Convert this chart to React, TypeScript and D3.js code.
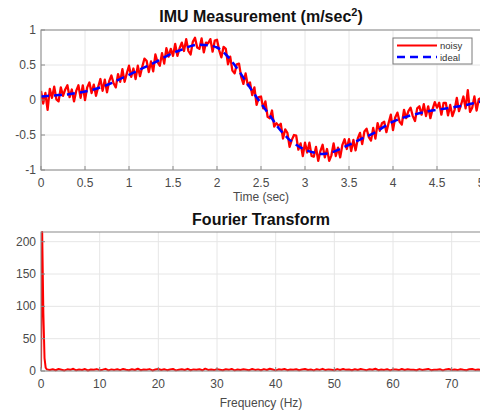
import React from 'react';
import * as d3 from 'd3';

const W = 480;
const H = 413;

// ---- Data: IMU measurement ----
const timeStep = 0.025;
const noisy = [
  0.13, -0.05, 0.1, -0.14,
  0.16, 0.03, 0.19, 0.01,
  -0.02, 0.18, 0.06, 0.15,
  0.21, 0.04, 0.15, -0.02,
  0.13, 0.21, 0.03, 0.21,
  0.0, 0.18, 0.25, 0.1,
  0.22, 0.06, 0.19, 0.3,
  0.13, 0.29, 0.11, 0.27,
  0.35, 0.24, 0.18, 0.37,
  0.26, 0.44, 0.26, 0.38,
  0.49, 0.33, 0.45, 0.3,
  0.49, 0.34, 0.47, 0.59,
  0.56, 0.4, 0.55, 0.41,
  0.65, 0.54, 0.49, 0.67,
  0.52, 0.74, 0.62, 0.73,
  0.63, 0.8, 0.63, 0.74,
  0.82, 0.7, 0.87, 0.7,
  0.65, 0.83, 0.89, 0.75,
  0.73, 0.88, 0.68, 0.82,
  0.81, 0.87, 0.69, 0.85,
  0.86, 0.71, 0.61, 0.76,
  0.73, 0.51, 0.62, 0.42,
  0.38, 0.51, 0.52, 0.33,
  0.23, 0.38, 0.21, 0.25,
  0.07, 0.18, -0.07, 0.04,
  0.05, -0.12, -0.02, -0.24,
  -0.26, -0.15, -0.38, -0.33,
  -0.37, -0.34, -0.55, -0.42,
  -0.47, -0.67, -0.57, -0.5,
  -0.51, -0.71, -0.62, -0.8,
  -0.61, -0.75, -0.61, -0.8,
  -0.81, -0.67, -0.87, -0.73,
  -0.64, -0.82, -0.7, -0.87,
  -0.79, -0.62, -0.8, -0.68,
  -0.82, -0.64, -0.56, -0.7,
  -0.56, -0.73, -0.57, -0.72,
  -0.55, -0.47, -0.63, -0.45,
  -0.41, -0.53, -0.58, -0.4,
  -0.55, -0.33, -0.44, -0.33,
  -0.31, -0.46, -0.33, -0.21,
  -0.43, -0.25, -0.18, -0.31,
  -0.35, -0.14, -0.26, -0.16,
  -0.11, -0.23, -0.3, -0.12,
  -0.09, -0.21, -0.06, -0.23,
  -0.09, -0.26, -0.13, -0.03,
  -0.11, -0.04, -0.21, -0.04,
  -0.04, -0.22, -0.07, -0.23,
  -0.14, 0.03, -0.16, -0.06,
  0.05, -0.12, 0.14, -0.17,
  -0.11, 0.05, -0.15, 0.01,
  0.03,
];

const idealStep = 0.1;
const ideal = [
  0.05, 0.06, 0.07, 0.08, 0.1, 0.12, 0.15, 0.19, 0.24, 0.3,
  0.36, 0.42, 0.48, 0.54, 0.61, 0.67, 0.72, 0.77, 0.79, 0.78,
  0.75, 0.65, 0.5, 0.32, 0.13, -0.05, -0.22, -0.4, -0.54, -0.64,
  -0.71, -0.75, -0.77, -0.75, -0.7, -0.64, -0.58, -0.52, -0.46, -0.38,
  -0.31, -0.26, -0.22, -0.19, -0.16, -0.14, -0.12, -0.1, -0.08, -0.05,
  -0.02,
];

const timeTicks = [0, 0.5, 1, 1.5, 2, 2.5, 3, 3.5, 4, 4.5, 5];
const accelTicks = [-1, -0.5, 0, 0.5, 1];

// ---- Data: Fourier transform ----
const peakFreq = [0, 0.2, 0.4, 0.6, 0.8, 1.0];
const peakMag = [4, 215, 90, 20, 5, 2.5];
const floorStart = 1.5;
const floorStep = 0.5;
const floorMag = [
  1.5, 2.8, 1.2, 3.1, 2.0, 0.9, 2.6, 1.8, 3.4, 1.1,
  2.2, 1.5, 3.0, 0.8, 2.4, 1.9, 2.9, 1.3, 2.1, 3.3,
  1.0, 2.5, 1.7, 2.8, 1.4, 3.2, 2.0, 1.1, 2.7, 1.6,
  3.5, 1.2, 2.3, 1.8, 2.9, 0.9, 2.2, 3.0, 1.5, 2.6,
  1.3, 2.4, 3.1, 1.0, 2.0, 2.7, 1.6, 3.3, 1.2, 2.5,
  1.9, 2.8, 1.1, 3.6, 1.7, 2.3, 1.4, 2.9, 2.0, 1.2,
  2.6, 1.8, 3.2, 1.0, 2.4, 1.5, 2.8, 2.1, 1.3, 3.0,
  1.7, 2.5, 1.1, 2.9, 1.6, 3.4, 2.2, 1.0, 2.6, 1.8,
  3.1, 1.3, 2.3, 1.9, 2.7, 1.1, 2.4, 3.0, 1.5, 2.2,
  1.0, 2.8, 1.7, 3.3, 1.4, 2.5, 2.0, 1.2, 2.9, 1.6,
  3.2, 1.8, 2.4, 1.1, 2.7, 1.5, 3.0, 2.1, 1.3, 2.6,
  1.9, 3.5, 1.2, 2.3, 1.7, 2.8, 1.0, 2.5, 2.2, 1.4,
  3.1, 1.6, 2.6, 1.9, 2.0, 1.1, 2.9, 1.5, 2.4, 3.2,
  1.3, 2.1, 1.8, 2.7, 1.0, 2.5, 3.0, 1.6, 2.2, 1.4,
  2.8, 1.9, 1.2, 2.6, 3.1, 1.7, 2.3, 1.5,
];
const freqTicks = [0, 10, 20, 30, 40, 50, 60, 70];
const magTicks = [0, 50, 100, 150, 200];

const FONT = '"Liberation Sans", Arial, sans-serif';
const AXIS_COLOR = '#8a8a8a';
const TICK_TEXT = '#4a4a4a';
const GRID = '#e6e6e6';

type AxesProps = {
  x: d3.ScaleLinear<number, number>;
  y: d3.ScaleLinear<number, number>;
  xTicks: number[];
  yTicks: number[];
  title: React.ReactNode;
  titleY: number;
  xLabel: string;
  xLabelY: number;
  children?: React.ReactNode;
};

function Axes({ x, y, xTicks, yTicks, title, titleY, xLabel, xLabelY, children }: AxesProps) {
  const [x0, x1] = x.range();
  const [y0, y1] = y.range(); // y0 bottom, y1 top
  const cx = (x0 + x1) / 2;
  return (
    <g>
      <rect x={x0} y={y1} width={x1 - x0} height={y0 - y1} fill="#fff" />
      {xTicks.map((t) => (
        <line key={'gx' + t} x1={x(t)} x2={x(t)} y1={y1} y2={y0} stroke={GRID} strokeWidth={1} />
      ))}
      {yTicks.map((t) => (
        <line key={'gy' + t} x1={x0} x2={x1} y1={y(t)} y2={y(t)} stroke={GRID} strokeWidth={1} />
      ))}
      {children}
      <rect x={x0} y={y1} width={x1 - x0} height={y0 - y1} fill="none" stroke={AXIS_COLOR} strokeWidth={1} />
      {xTicks.map((t) => (
        <g key={'tx' + t}>
          <line x1={x(t)} x2={x(t)} y1={y0} y2={y0 - 4} stroke={AXIS_COLOR} />
          <text x={x(t)} y={y0 + 17} textAnchor="middle" fontSize={12} fill={TICK_TEXT} fontFamily={FONT}>
            {String(t)}
          </text>
        </g>
      ))}
      {yTicks.map((t) => (
        <g key={'ty' + t}>
          <line x1={x0} x2={x0 + 4} y1={y(t)} y2={y(t)} stroke={AXIS_COLOR} />
          <text x={x0 - 5} y={y(t) + 4} textAnchor="end" fontSize={12} fill={TICK_TEXT} fontFamily={FONT}>
            {String(t)}
          </text>
        </g>
      ))}
      <text x={cx} y={titleY} textAnchor="middle" fontSize={16} fontWeight="bold" fill="#111" fontFamily={FONT}>
        {title}
      </text>
      <text x={cx} y={xLabelY} textAnchor="middle" fontSize={12} fill={TICK_TEXT} fontFamily={FONT}>
        {xLabel}
      </text>
    </g>
  );
}

export default function App() {
  // Top axes
  const xT = d3.scaleLinear().domain([0, 5]).range([41, 481]);
  const yT = d3.scaleLinear().domain([-1, 1]).range([170, 30]);
  // Bottom axes
  const xF = d3.scaleLinear().domain([0, 75]).range([41, 481]);
  const yF = d3.scaleLinear().domain([0, 215]).range([371, 232]);

  const noisyPath = d3
    .line<number>()
    .x((_, i) => xT(i * timeStep))
    .y((d) => yT(d))(noisy) as string;

  const idealPath = d3
    .line<number>()
    .x((_, i) => xT(i * idealStep))
    .y((d) => yT(d))
    .curve(d3.curveMonotoneX)(ideal) as string;

  const fftPts: [number, number][] = [
    ...peakFreq.map((f, i) => [f, peakMag[i]] as [number, number]),
    ...floorMag.map((m, i) => [floorStart + i * floorStep, m] as [number, number]),
  ];
  const fftPath = d3
    .line<[number, number]>()
    .x((d) => xF(d[0]))
    .y((d) => yF(d[1]))(fftPts) as string;

  return (
    <svg
      width={W}
      height={H}
      viewBox={`0 0 ${W} ${H}`}
      style={{ position: 'absolute', left: 0, top: 0, background: '#fff' }}
    >
      <rect x={0} y={0} width={W} height={H} fill="#fff" />
      <defs>
        <clipPath id="clipTop">
          <rect x={41} y={30} width={440} height={140} />
        </clipPath>
        <clipPath id="clipBot">
          <rect x={41} y={231} width={440} height={141} />
        </clipPath>
      </defs>
      <Axes
        x={xT}
        y={yT}
        xTicks={timeTicks}
        yTicks={accelTicks}
        title={
          <>
            IMU Measurement (m/sec
            <tspan dy={-6} fontSize={11}>2</tspan>
            <tspan dy={6}>)</tspan>
          </>
        }
        titleY={22}
        xLabel="Time (sec)"
        xLabelY={201}
      >
        <g clipPath="url(#clipTop)">
          <path d={noisyPath} fill="none" stroke="#ff0000" strokeWidth={2.3} strokeLinejoin="round" />
          <path d={idealPath} fill="none" stroke="#0000ff" strokeWidth={2.5} strokeDasharray="8,5" />
        </g>
      </Axes>
      {/* Legend */}
      <g fontFamily={FONT}>
        <rect x={393} y={38} width={79} height={26} fill="#fff" stroke="#7a7a7a" strokeWidth={1} />
        <line x1={397} x2={437} y1={45.5} y2={45.5} stroke="#ff0000" strokeWidth={2} />
        <text x={440} y={49} fontSize={9.5} fill="#333">noisy</text>
        <line x1={397} x2={437} y1={57} y2={57} stroke="#0000ff" strokeWidth={2.5} strokeDasharray="8,5" />
        <text x={440} y={60.5} fontSize={9.5} fill="#333">ideal</text>
      </g>
      <Axes
        x={xF}
        y={yF}
        xTicks={freqTicks}
        yTicks={magTicks}
        title="Fourier Transform"
        titleY={225}
        xLabel="Frequency (Hz)"
        xLabelY={407}
      >
        <g clipPath="url(#clipBot)">
          <path d={fftPath} fill="none" stroke="#ff0000" strokeWidth={2} strokeLinejoin="round" />
        </g>
      </Axes>
    </svg>
  );
}
